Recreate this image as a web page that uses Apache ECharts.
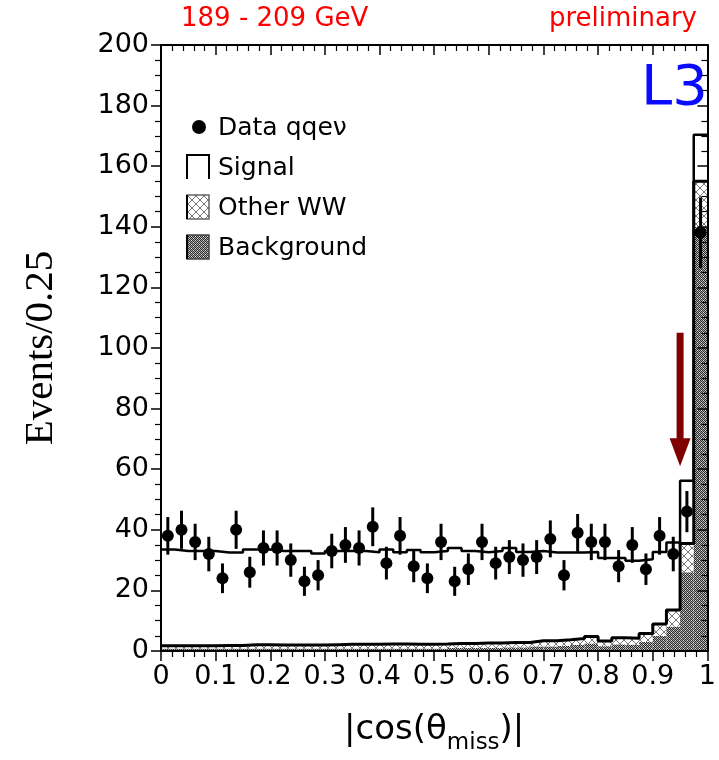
<!DOCTYPE html>
<html><head><meta charset="utf-8">
<script src="https://cdn.jsdelivr.net/npm/echarts@6/dist/echarts.min.js"></script>
<style>html,body{margin:0;padding:0;background:#fff}#c{width:719px;height:760px}</style>
</head><body><div id="c"></div>
<script>
// ---- data ----
const binLow = [0.000,0.025,0.050,0.075,0.100,0.125,0.150,0.175,0.200,0.225,
                0.250,0.275,0.300,0.325,0.350,0.375,0.400,0.425,0.450,0.475,
                0.500,0.525,0.550,0.575,0.600,0.625,0.650,0.675,0.700,0.725,
                0.750,0.775,0.800,0.825,0.850,0.875,0.900,0.925,0.950,0.975];
const binWidth = 0.025;
const dataCounts = [38,40,36,32,24, 40,26,34,34,30, 23,25,33,35,34, 41,29,38,28,24,
                    36,23,27,36,29, 31,30,31,37,25, 39,36,36,28,35, 27,38,32,46,138];
const dataErrors = [6.2,6.3,6.0,5.7,4.9, 6.3,5.1,5.8,5.8,5.5, 4.8,5.0,5.7,5.9,5.8, 6.4,5.4,6.2,5.3,4.9,
                    6.0,4.8,5.2,6.0,5.4, 5.6,5.5,5.6,6.1,5.0, 6.2,6.0,6.0,5.3,5.9, 5.2,6.2,5.7,6.8,11.7];
const background = [0.8,0.8,0.8,0.8,0.8, 0.8,0.8,0.8,0.8,0.8, 0.8,0.8,0.8,0.8,0.8, 0.8,0.8,0.8,0.8,0.8,
                    0.8,1.0,1.0,1.0,1.0, 1.2,1.2,1.5,1.5,1.7, 2.0,2.5,1.6,2.2,2.1, 3.0,5.0,8.0,26.0,140.0];
const otherWW = [0.9,0.9,0.9,0.9,1.0, 1.0,1.3,1.3,1.2,1.2, 1.2,1.2,1.3,1.4,1.4, 1.4,1.5,1.5,1.4,1.4,
                 1.5,1.5,1.5,1.6,1.6, 1.6,1.6,1.9,1.9,2.0, 2.1,2.3,1.7,2.2,2.1, 2.8,3.9,5.5,9.5,15.0];
const signal = [31.8,31.3,31.3,31.3,30.7, 30.7,31.4,31.4,31.0,31.0, 31.0,30.2,30.9,30.8,30.8, 30.4,31.2,30.3,31.1,30.4,
                30.7,31.5,30.5,30.0,30.4, 31.2,29.9,29.6,29.1,28.8, 28.4,27.9,27.4,26.3,25.6, 24.5,23.8,22.3,20.7,15.4];
const cutArrow = [[0.95, 105, 61]]; // x, from, to (events)
const xTickLabels = ['0','0.1','0.2','0.3','0.4','0.5','0.6','0.7','0.8','0.9','1'];
const yTickLabels = ['0','20','40','60','80','100','120','140','160','180','200'];
const legendLabels = ['Data qqe\u03bd','Signal','Other WW','Background'];

// ---- patterns ----
function bkgPattern(){
  const c=document.createElement('canvas');c.width=4;c.height=4;
  const g=c.getContext('2d');g.fillStyle='#a8a8a8';g.fillRect(0,0,4,4);
  g.fillStyle='#2a2a2a';
  for(let y=0;y<4;y++)for(let x=0;x<4;x++)if((x+y)%2===0)g.fillRect(x,y,1,1);
  g.fillStyle='#e8e8e8';g.fillRect(1,2,1,1);g.fillRect(3,0,1,1);
  return c;
}
function wwPattern(){
  const c=document.createElement('canvas');c.width=8;c.height=8;
  const g=c.getContext('2d');g.fillStyle='#ffffff';g.fillRect(0,0,8,8);
  g.strokeStyle='#777';g.lineWidth=1;
  g.beginPath();g.moveTo(0,0);g.lineTo(8,8);g.moveTo(8,0);g.lineTo(0,8);g.stroke();
  return c;
}
const bkgFill={image:bkgPattern(),repeat:'repeat'};
const wwFill={image:wwPattern(),repeat:'repeat'};

// ---- derived series data ----
const stackData = binLow.map((x,i)=>[x, x+binWidth, background[i], otherWW[i], signal[i]]);
const hatchTop = [], totalTop = [];
binLow.forEach((x,i)=>{
  const h = background[i]+otherWW[i], t = h+signal[i];
  hatchTop.push([x,h],[x+binWidth,h]);
  totalTop.push([x,t],[x+binWidth,t]);
});
const pts = binLow.map((x,i)=>[x+binWidth/2, dataCounts[i], dataErrors[i]]);

const FONT='DejaVu Sans';
const chart = echarts.init(document.getElementById('c'),null,{renderer:'canvas'});

const axisCommonX = {
  type:'value', min:0, max:1, interval:0.1, z:10,
  axisLine:{show:true,onZero:false,lineStyle:{color:'#000',width:2}},
  splitLine:{show:false}
};
const axisCommonY = {
  type:'value', min:0, max:200, interval:20, z:10,
  axisLine:{show:true,onZero:false,lineStyle:{color:'#000',width:2}},
  splitLine:{show:false}
};

chart.setOption({
  animation:false,
  grid:{left:161,right:6,top:45,bottom:107,containLabel:false},
  xAxis:[
    Object.assign({},axisCommonX,{position:'bottom',
      axisTick:{show:true,inside:false,length:10,lineStyle:{color:'#000',width:1.5}},
      minorTick:{show:true,splitNumber:5,length:6,lineStyle:{color:'#000',width:1.2}},
      axisLabel:{color:'#000',fontFamily:FONT,fontSize:27,margin:12,
        formatter:(v,i)=>xTickLabels[i]},
      name:'{a||cos(\u03b8}{b|miss}{a|)|}', nameLocation:'middle', nameGap:62,
      nameTextStyle:{rich:{
        a:{fontFamily:FONT,fontSize:34,color:'#000',lineHeight:42,verticalAlign:'top'},
        b:{fontFamily:FONT,fontSize:23,color:'#000',lineHeight:23,verticalAlign:'bottom'}
      }}
    }),
    Object.assign({},axisCommonX,{position:'top',
      axisTick:{show:true,inside:true,length:10,lineStyle:{color:'#000',width:1.5}},
      minorTick:{show:true,splitNumber:5,length:6,lineStyle:{color:'#000',width:1.2}},
      axisLabel:{show:false}
    })
  ],
  yAxis:[
    Object.assign({},axisCommonY,{position:'left',
      axisTick:{show:true,inside:false,length:10,lineStyle:{color:'#000',width:1.5}},
      minorTick:{show:true,splitNumber:4,length:6,lineStyle:{color:'#000',width:1.2}},
      axisLabel:{color:'#000',fontFamily:FONT,fontSize:27,margin:12,
        formatter:(v,i)=>yTickLabels[i]},
      name:'Events/0.25', nameLocation:'middle', nameGap:99, nameRotate:90,
      nameTextStyle:{fontFamily:'Liberation Serif',fontSize:41,color:'#000'}
    }),
    Object.assign({},axisCommonY,{position:'right',
      axisTick:{show:true,inside:true,length:10,lineStyle:{color:'#000',width:1.5}},
      minorTick:{show:true,splitNumber:4,length:6,lineStyle:{color:'#000',width:1.2}},
      axisLabel:{show:false}
    })
  ],
  series:[
    { type:'custom', name:'stack', z:1, data:stackData, clip:true,
      renderItem:(params,api)=>{
        const x0=api.value(0), x1=api.value(1), b=api.value(2), o=api.value(3);
        const p00=api.coord([x0,0]), p1b=api.coord([x1,b]), p1bo=api.coord([x1,b+o]);
        const p0b=api.coord([x0,b]);
        return {type:'group',children:[
          {type:'rect',shape:{x:p00[0],y:p1b[1],width:p1b[0]-p00[0],height:p00[1]-p1b[1]},style:{fill:bkgFill}},
          {type:'rect',shape:{x:p0b[0],y:p1bo[1],width:p1bo[0]-p0b[0],height:p0b[1]-p1bo[1]},style:{fill:wwFill}}
        ]};
      }
    },
    { type:'line', name:'hatchTop', z:2, data:hatchTop, symbol:'none',
      lineStyle:{color:'#000',width:3}},
    { type:'line', name:'total', z:2, data:totalTop, symbol:'none',
      lineStyle:{color:'#000',width:2.5}},
    { type:'custom', name:'errors', z:3, data:pts,
      renderItem:(params,api)=>{
        const x=api.value(0), y=api.value(1), e=api.value(2);
        const a=api.coord([x,y-e]), b=api.coord([x,y+e]);
        return {type:'line',shape:{x1:a[0],y1:a[1],x2:b[0],y2:b[1]},style:{stroke:'#000',lineWidth:3}};
      }
    },
    { type:'scatter', name:'data', z:4, data:pts.map(p=>[p[0],p[1]]), symbol:'circle', symbolSize:12,
      itemStyle:{color:'#000',opacity:1}},
    { type:'custom', name:'arrow', z:5, data:cutArrow,
      renderItem:(params,api)=>{
        const t=api.coord([api.value(0),api.value(1)]), h=api.coord([api.value(0),api.value(2)]);
        const cx=t[0], sw=3.5, hw=10.5, hl=28;
        return {type:'polygon',shape:{points:[[cx-sw,t[1]],[cx+sw,t[1]],[cx+sw,h[1]-hl],[cx+hw,h[1]-hl],[cx,h[1]],[cx-hw,h[1]-hl],[cx-sw,h[1]-hl]]},
          style:{fill:'#800000'}};
      }
    }
  ],
  graphic:[
    {type:'text',left:181,top:6,style:{text:'189 - 209 GeV',fill:'#ff0000',font:'26px "DejaVu Sans"'}},
    {type:'text',right:22,top:6,style:{text:'preliminary',fill:'#ff0000',font:'26px "DejaVu Sans"'}},
    {type:'text',left:641,top:61,style:{text:'L3',fill:'#0a0aff',font:'56px "DejaVu Sans"'}},
    // legend
    {type:'circle',shape:{cx:199,cy:127,r:7},style:{fill:'#000'}},
    {type:'text',x:218,y:128,style:{text:legendLabels[0],fill:'#000',font:'25px "DejaVu Sans"',textVerticalAlign:'middle'}},
    {type:'polyline',shape:{points:[[187,179],[187,155],[209,155],[209,179]]},style:{stroke:'#000',lineWidth:2,fill:null}},
    {type:'text',x:218,y:168,style:{text:legendLabels[1],fill:'#000',font:'25px "DejaVu Sans"',textVerticalAlign:'middle'}},
    {type:'rect',shape:{x:187,y:195,width:22,height:24},style:{fill:wwFill,stroke:'#666',lineWidth:1.5}},
    {type:'line',shape:{x1:187,y1:195,x2:187,y2:219},style:{stroke:'#000',lineWidth:2}},
    {type:'text',x:218,y:208,style:{text:legendLabels[2],fill:'#000',font:'25px "DejaVu Sans"',textVerticalAlign:'middle'}},
    {type:'rect',shape:{x:187,y:235,width:22,height:24},style:{fill:bkgFill,stroke:'#444',lineWidth:1.5}},
    {type:'line',shape:{x1:187,y1:235,x2:187,y2:259},style:{stroke:'#000',lineWidth:2}},
    {type:'text',x:218,y:248,style:{text:legendLabels[3],fill:'#000',font:'25px "DejaVu Sans"',textVerticalAlign:'middle'}}
  ]
});
</script></body></html>
